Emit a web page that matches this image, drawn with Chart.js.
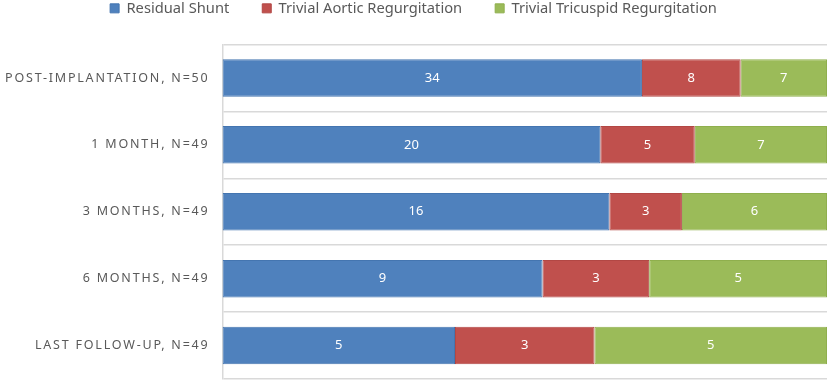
<!DOCTYPE html>
<html>
<head>
<meta charset="utf-8">
<script src="https://cdn.jsdelivr.net/npm/chart.js@4/dist/chart.umd.min.js"></script>
<style>
  html, body { margin: 0; padding: 0; background: #fff; overflow: hidden; }
  canvas { display: block; }
</style>
</head>
<body>
<canvas id="chart" width="829" height="382"></canvas>
<script>
  // Follow-up timepoints
  const categories = [
    'POST-IMPLANTATION, N=50',
    '1 MONTH, N=49',
    '3 MONTHS, N=49',
    '6 MONTHS, N=49',
    'LAST FOLLOW-UP, N=49'
  ];

  // Patient counts per finding
  const residualShunt = [34, 20, 16, 9, 5];
  const aorticRegurg  = [8, 5, 3, 3, 3];
  const tricuspRegurg = [7, 7, 6, 5, 5];

  const seriesNames = ['Residual Shunt', 'Trivial Aortic Regurgitation', 'Trivial Tricuspid Regurgitation'];

  const FONT = '"Noto Sans", "Open Sans", sans-serif';

  // bars are 100% stacked, label shows the raw count
  const totals = categories.map((_, i) => residualShunt[i] + aorticRegurg[i] + tricuspRegurg[i]);
  const pct = arr => arr.map((v, i) => v / totals[i] * 100);

  function makeSet(label, counts, fill, edge) {
    return {
      label,
      data: pct(counts),
      counts,
      backgroundColor: fill,
      borderColor: edge,
      borderWidth: 1,
      borderSkipped: false,
      barPercentage: 0.56,
      categoryPercentage: 1.0,
    };
  }

  const countLabels = {
    id: 'countLabels',
    afterInit(chart) {
      // keep wide gaps between legend items but give a shorter header
      const lg = chart.legend;
      const fit = lg.fit;
      lg.fit = function () { fit.call(this); this.height = 76.5; };
    },
    afterDatasetsDraw(chart) {
      const ctx = chart.ctx;
      ctx.save();
      ctx.fillStyle = '#ffffff';
      ctx.font = '13px ' + FONT;
      ctx.textAlign = 'center';
      ctx.textBaseline = 'middle';
      chart.data.datasets.forEach((ds, di) => {
        chart.getDatasetMeta(di).data.forEach((bar, i) => {
          const p = bar.getProps(['x', 'y', 'base'], true);
          ctx.fillText(String(ds.counts[i]), (p.x + p.base) / 2, p.y);
        });
      });
      ctx.restore();
      // y tick labels are drawn after datasets (z:1) with wide tracking
      ctx.letterSpacing = '1.8px';
    },
    afterDraw(chart) {
      chart.ctx.letterSpacing = '0px';
    }
  };

  const chart = new Chart(document.getElementById('chart'), {
    type: 'bar',
    data: {
      labels: categories,
      datasets: [
        makeSet(seriesNames[0], residualShunt, '#4F81BD', '#4475B0'),
        makeSet(seriesNames[1], aorticRegurg, '#C0504D', '#B24744'),
        makeSet(seriesNames[2], tricuspRegurg, '#9BBB59', '#8FAF4D'),
      ]
    },
    options: {
      indexAxis: 'y',
      responsive: false,
      animation: false,
      layout: { padding: { top: -32, right: 2, bottom: 3, left: 0 } },
      scales: {
        x: {
          stacked: true,
          min: 0,
          max: 100,
          display: false,
        },
        y: {
          stacked: true,
          afterFit(scale) {
            scale.width = 222.5;
            scale.paddingTop = 0;
            scale.paddingBottom = 0;
          },
          border: { display: true, color: '#d9d9d9', width: 1.5 },
          grid: { display: true, color: '#d9d9d9', lineWidth: 1.5, drawTicks: false, offset: true },
          ticks: {
            z: 1,
            color: '#595959',
            padding: 13,
            font: { family: FONT, size: 12.5 },
          }
        }
      },
      plugins: {
        legend: {
          position: 'top',
          labels: {
            boxWidth: 9,
            boxHeight: 9,
            padding: 33,
            color: '#595959',
            font: { family: FONT, size: 14.7 },
          }
        },
        tooltip: { enabled: false }
      }
    },
    plugins: [countLabels]
  });
</script>
</body>
</html>
